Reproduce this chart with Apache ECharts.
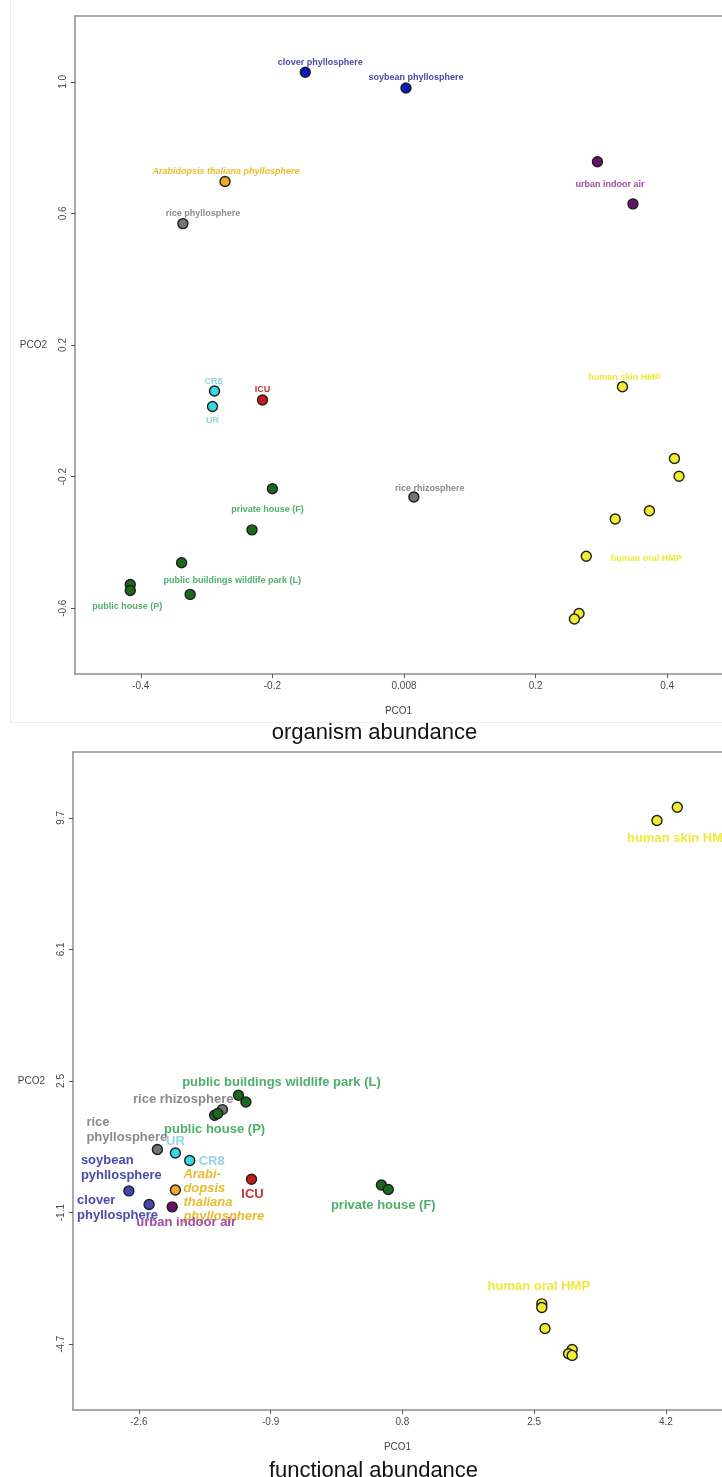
<!DOCTYPE html>
<html>
<head>
<meta charset="utf-8">
<script src="https://cdn.jsdelivr.net/npm/echarts@6/dist/echarts.min.js"></script>
<style>
html,body{margin:0;padding:0;background:#fff;}
#chart{width:722px;height:1477px;}
</style>
</head>
<body>
<div id="chart"></div>
<script>
// ---------- DATA: organism abundance (top panel) ----------
const orgXTicks = [-0.4, -0.2, 0, 0.2, 0.4];
const orgXTickLabels = ['-0.4', '-0.2', '0.008', '0.2', '0.4'];
const orgYTicks = [-0.6, -0.2, 0.2, 0.6, 1.0];
const orgYTickLabels = ['-0.6', '-0.2', '0.2', '0.6', '1.0'];

const orgClover = [[-0.150, 1.029]];
const orgSoybean = [[0.003, 0.981]];
const orgArabidopsis = [[-0.272, 0.697]];
const orgRicePhyllo = [[-0.336, 0.569]];
const orgUrbanAir = [[0.294, 0.757], [0.348, 0.629]];
const orgCR8 = [[-0.288, 0.060]];
const orgUR = [[-0.291, 0.013]];
const orgICU = [[-0.215, 0.033]];
const orgSkin = [[0.332, 0.073], [0.411, -0.145], [0.418, -0.199]];
const orgOral = [[0.373, -0.304], [0.321, -0.329], [0.277, -0.442], [0.266, -0.616], [0.259, -0.633]];
const orgRiceRhizo = [[0.015, -0.262]];
const orgPrivateHouse = [[-0.200, -0.237], [-0.231, -0.362]];
const orgPublicBuildings = [[-0.338, -0.462], [-0.325, -0.558]];
const orgPublicHouse = [[-0.416, -0.528], [-0.416, -0.546]];

// ---------- DATA: functional abundance (bottom panel) ----------
const funXTicks = [-2.6, -0.9, 0.8, 2.5, 4.2];
const funXTickLabels = ['-2.6', '-0.9', '0.8', '2.5', '4.2'];
const funYTicks = [-4.7, -1.1, 2.5, 6.1, 9.7];
const funYTickLabels = ['-4.7', '-1.1', '2.5', '6.1', '9.7'];

const funSkin = [[4.085, 9.626], [4.347, 9.990]];
const funPublicBuildings = [[-1.315, 2.109], [-1.219, 1.926]];
const funRiceRhizo = [[-1.522, 1.718]];
const funPublicHouse = [[-1.623, 1.562], [-1.582, 1.609]];
const funRicePhyllo = [[-2.361, 0.625]];
const funUR = [[-2.129, 0.532]];
const funCR8 = [[-1.944, 0.324]];
const funSoybean = [[-2.729, -0.507]];
const funArabidopsis = [[-2.129, -0.480]];
const funICU = [[-1.147, -0.187]];
const funClover = [[-2.468, -0.879]];
const funUrbanAir = [[-2.170, -0.944]];
const funPrivateHouse = [[0.529, -0.343], [0.618, -0.469]];
const funOral = [[2.599, -3.596], [2.599, -3.695], [2.640, -4.269], [2.991, -4.843], [2.944, -4.963], [2.991, -5.007]];

// ---------- STYLES ----------
const C = {
  blueTop: '#0b17b8', blueBot: '#4646b0', blueLbl: '#4a4aa8',
  orange: '#f2a82a', orangeLbl: '#e8bc2c',
  gray: '#747474', grayLbl: '#8a8a8a',
  purple: '#66106a', purpleLbl: '#a24ca2',
  cyan: '#3ad6e2', cyanLbl: '#95d4e4',
  red: '#c41a1a', redLbl: '#c03434',
  yellow: '#f2ee2e', yellowLbl: '#eeea3c',
  green: '#1a6a1e', greenLbl: '#4faf6a'
};
const NARROW = '"Liberation Sans Narrow", "Liberation Sans", Arial, sans-serif';
const SANS = '"Liberation Sans", Arial, sans-serif';

function mk(gi, name, data, color, lbl) {
  const d = data.map((p, i) => {
    const item = { value: p };
    if (lbl && i === (lbl.idx || 0)) {
      item.label = {
        show: true, position: 'inside', formatter: lbl.text || name,
        offset: lbl.off, align: lbl.align || 'center', verticalAlign: 'middle',
        color: lbl.color, fontFamily: NARROW, fontWeight: 'bold',
        fontStyle: lbl.italic ? 'italic' : 'normal',
        fontSize: gi === 0 ? 9 : 13, lineHeight: lbl.lh || (gi === 0 ? 10 : 15)
      };
    }
    return item;
  });
  return {
    type: 'scatter', name: name, xAxisIndex: gi, yAxisIndex: gi, data: d,
    symbol: 'circle', symbolSize: 10,
    itemStyle: { color: color, borderColor: '#1e1e1e', borderWidth: 1.4, opacity: 1 },
    label: { show: false }, emphasis: { disabled: true }, z: 3
  };
}

const series = [
  // top
  mk(0, 'clover phyllosphere', orgClover, C.blueTop, { off: [15, -10], color: C.blueLbl }),
  mk(0, 'soybean phyllosphere', orgSoybean, C.blueTop, { off: [10, -11], color: C.blueLbl }),
  mk(0, 'Arabidopsis thaliana phyllosphere', orgArabidopsis, C.orange, { off: [1, -10], color: C.orangeLbl, italic: true }),
  mk(0, 'rice phyllosphere', orgRicePhyllo, C.gray, { off: [20, -10], color: C.grayLbl }),
  mk(0, 'urban indoor air', orgUrbanAir, C.purple, { idx: 1, off: [-23, -19], color: C.purpleLbl }),
  mk(0, 'CR8', orgCR8, C.cyan, { off: [-1, -10], color: C.cyanLbl }),
  mk(0, 'UR', orgUR, C.cyan, { off: [0, 14], color: C.cyanLbl }),
  mk(0, 'ICU', orgICU, C.red, { off: [0, -10], color: C.redLbl }),
  mk(0, 'human skin HMP', orgSkin, C.yellow, { off: [2, -9], color: C.yellowLbl }),
  mk(0, 'human oral HMP', orgOral, C.yellow, { idx: 2, off: [60, 2], color: C.yellowLbl }),
  mk(0, 'rice rhizosphere', orgRiceRhizo, C.gray, { off: [16, -8], color: C.grayLbl }),
  mk(0, 'private house (F)', orgPrivateHouse, C.green, { off: [-5, 21], color: C.greenLbl }),
  mk(0, 'public buildings wildlife park (L)', orgPublicBuildings, C.green, { idx: 1, off: [42, -14], color: C.greenLbl }),
  mk(0, 'public house (P)', orgPublicHouse, C.green, { idx: 1, off: [-3, 16], color: C.greenLbl }),
  // bottom
  mk(1, 'human skin HMP', funSkin, C.yellow, { off: [-30, 18], align: 'left', color: C.yellowLbl }),
  mk(1, 'public buildings wildlife park (L)', funPublicBuildings, C.green, { off: [43, -13], color: C.greenLbl }),
  mk(1, 'rice rhizosphere', funRiceRhizo, C.gray, { off: [11, -10], align: 'right', color: C.grayLbl }),
  mk(1, 'public house (P)', funPublicHouse, C.green, { off: [0, 14], color: C.greenLbl }),
  mk(1, 'rice phyllosphere', funRicePhyllo, C.gray, { text: 'rice\nphyllosphere', off: [-71, -20], align: 'left', color: C.grayLbl }),
  mk(1, 'UR', funUR, C.cyan, { off: [0, -12], color: C.cyanLbl }),
  mk(1, 'CR8', funCR8, C.cyan, { off: [9, 1], align: 'left', color: C.cyanLbl }),
  mk(1, 'soybean pyhllosphere', funSoybean, C.blueBot, { text: 'soybean\npyhllosphere', off: [-48, -23], align: 'left', color: C.blueLbl }),
  mk(1, 'Arabidopsis thaliana phyllosphere', funArabidopsis, C.orange, { text: 'Arabi-\ndopsis\nthaliana\nphyllosphere', off: [8, 5], align: 'left', italic: true, lh: 14, color: C.orangeLbl }),
  mk(1, 'ICU', funICU, C.red, { off: [1, 15], color: C.redLbl }),
  mk(1, 'clover phyllosphere', funClover, C.blueBot, { text: 'clover\nphyllosphere', off: [-72, 3], align: 'left', color: C.blueLbl }),
  mk(1, 'urban indoor air', funUrbanAir, C.purple, { off: [14, 16], color: C.purpleLbl }),
  mk(1, 'private house (F)', funPrivateHouse, C.green, { idx: 1, off: [-5, 16], color: C.greenLbl }),
  mk(1, 'human oral HMP', funOral, C.yellow, { off: [-3, -17], color: C.yellowLbl })
];

function lookup(ticks, labels) {
  return function (v) {
    for (let i = 0; i < ticks.length; i++) if (Math.abs(ticks[i] - v) < 1e-6) return labels[i];
    return '';
  };
}
const AXC = '#8e8e8e';
function xAx(gi, min, max, ticks, labels) {
  return {
    gridIndex: gi, type: 'value', min: min, max: max, position: 'bottom',
    splitLine: { show: false },
    axisLine: { show: true, onZero: false, lineStyle: { color: AXC, width: 1.5 } },
    axisTick: { show: true, customValues: ticks, length: 4, lineStyle: { color: '#555', width: 1 } },
    axisLabel: { customValues: ticks, formatter: lookup(ticks, labels), color: '#4a4a4a', fontSize: 10, fontFamily: SANS, margin: 7 },
    name: 'PCO1', nameLocation: 'middle', nameGap: 32,
    nameTextStyle: { color: '#444', fontSize: 10, fontFamily: SANS }
  };
}
// plain top frame line of each plot box
function xTop(gi, min, max) {
  return {
    gridIndex: gi, type: 'value', min: min, max: max, position: 'top',
    splitLine: { show: false },
    axisLine: { show: true, onZero: false, lineStyle: { color: AXC, width: 1.5 } },
    axisTick: { show: false }, axisLabel: { show: false }
  };
}
function yAx(gi, min, max, ticks, labels) {
  return {
    gridIndex: gi, type: 'value', min: min, max: max,
    splitLine: { show: false },
    axisLine: { show: true, onZero: false, lineStyle: { color: AXC, width: 1.5 } },
    axisTick: { show: true, customValues: ticks, length: 4, lineStyle: { color: '#555', width: 1 } },
    axisLabel: { customValues: ticks, formatter: lookup(ticks, labels), color: '#4a4a4a', fontSize: 10, fontFamily: SANS, rotate: 90, margin: 7 },
    name: 'PCO2', nameLocation: 'middle', nameGap: 28, nameRotate: 0,
    nameTextStyle: { color: '#444', fontSize: 10, fontFamily: SANS }
  };
}

// the plot boxes run past the right edge of the picture; the axes end where the picture is cut
const orgXMin = -0.5, orgXMax = 0.4833;
const funXMin = -3.45, funXMax = 4.924;

const chart = echarts.init(document.getElementById('chart'), null, { renderer: 'canvas' });
chart.setOption({
  animation: false,
  backgroundColor: '#ffffff',
  title: [
    { text: 'organism abundance', left: 369.5, top: 717, textAlign: 'center',
      textStyle: { fontSize: 22, fontWeight: 'normal', color: '#111', fontFamily: SANS } },
    { text: 'functional abundance', left: 368.5, top: 1455, textAlign: 'center',
      textStyle: { fontSize: 22, fontWeight: 'normal', color: '#111', fontFamily: SANS } }
  ],
  graphic: [
    { type: 'line', shape: { x1: 10.5, y1: 0, x2: 10.5, y2: 722 }, style: { stroke: '#eeeee4', lineWidth: 1 }, silent: true },
    { type: 'line', shape: { x1: 10, y1: 722.5, x2: 722, y2: 722.5 }, style: { stroke: '#eeeee4', lineWidth: 1 }, silent: true }
  ],
  grid: [
    { left: 75, top: 16, right: 0, height: 658, show: false },
    { left: 73, top: 752, right: 0, height: 658, show: false }
  ],
  xAxis: [
    xAx(0, orgXMin, orgXMax, orgXTicks, orgXTickLabels),
    xAx(1, funXMin, funXMax, funXTicks, funXTickLabels),
    xTop(0, orgXMin, orgXMax),
    xTop(1, funXMin, funXMax)
  ],
  yAxis: [
    yAx(0, -0.8, 1.2, orgYTicks, orgYTickLabels),
    yAx(1, -6.5, 11.5, funYTicks, funYTickLabels)
  ],
  series: series
});
</script>
</body>
</html>
